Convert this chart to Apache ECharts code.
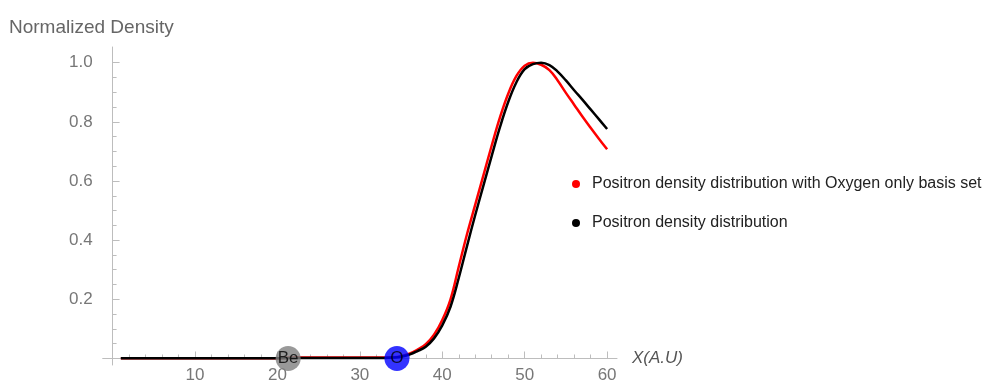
<!DOCTYPE html>
<html><head><meta charset="utf-8">
<script src="https://cdn.jsdelivr.net/npm/echarts@6/dist/echarts.min.js"></script>
<style>html,body{margin:0;padding:0;background:#fff}#c{width:1003px;height:382px}</style>
</head><body><div id="c"></div>
<script>
// ---- data ----
const xValues = [1,2,3,4,5,6,7,8,9,10,11,12,13,14,15,16,17,18,19,20,21,22,23,24,25,26,27,28,29,30,
  31,32,33,34,35,36,37,38,39,40,41,42,43,44,45,46,47,48,49,50,51,52,53,54,55,56,57,58,59,60];
const oxygenOnlyDensity = [0.001,0.001,0.001,0.001,0.001,0.001,0.001,0.001,0.001,0.001,
  0.001,0.001,0.001,0.001,0.001,0.001,0.001,0.001,0.001,0.001,
  0.002,0.003,0.003,0.003,0.003,0.003,0.003,0.003,0.003,0.003,
  0.003,0.003,0.003,0.004,0.008,0.016,0.030,0.048,0.080,0.130,
  0.200,0.310,0.420,0.520,0.620,0.720,0.815,0.895,0.955,0.990,
  1.000,0.993,0.975,0.940,0.898,0.858,0.818,0.780,0.743,0.707];
const fullDensity = [0.001,0.001,0.001,0.001,0.001,0.001,0.001,0.001,0.001,0.001,
  0.001,0.001,0.001,0.001,0.001,0.001,0.001,0.001,0.001,0.001,
  0.001,0.002,0.002,0.002,0.002,0.002,0.002,0.002,0.002,0.002,
  0.002,0.002,0.002,0.003,0.006,0.013,0.025,0.040,0.068,0.112,
  0.175,0.272,0.380,0.485,0.585,0.685,0.782,0.867,0.934,0.978,
  0.995,1.000,0.992,0.970,0.940,0.907,0.875,0.842,0.809,0.776];
const atomNames = ['Be', 'O'];
const atomX = [21.3, 34.5];
const seriesNames = ['Positron density distribution with Oxygen only basis set', 'Positron density distribution'];
const xMajorTicks = [10, 20, 30, 40, 50, 60];
const xMinorTicks = [2,4,6,8,12,14,16,18,22,24,26,28,32,34,36,38,42,44,46,48,52,54,56,58];
const yMajorTicks = [0.2, 0.4, 0.6, 0.8, 1.0];
const yMinorTicks = [0.05,0.1,0.15,0.25,0.3,0.35,0.45,0.5,0.55,0.65,0.7,0.75,0.85,0.9,0.95];

// ---- chart ----
const axisGray = '#bdbdbd';
const chart = echarts.init(document.getElementById('c'), null, {renderer: 'canvas'});
const xBase = {type: 'value', min: -1.2, max: 61.2, splitLine: {show: false}};
const yBase = {type: 'value', min: -0.022, max: 1.053, splitLine: {show: false}, position: 'left'};
chart.setOption({
  animation: false,
  textStyle: {fontFamily: 'Liberation Sans, Arial, sans-serif'},
  title: {text: 'Normalized Density', left: 9, top: 18, padding: 0,
    textStyle: {fontSize: 19, fontWeight: 'normal', color: '#666'}},
  grid: {left: 102.7, right: 386, top: 47, bottom: 17, containLabel: false, outerBoundsMode: 'none'},
  legend: {
    data: seriesNames, orient: 'vertical', left: 567, top: 171, itemGap: 23,
    icon: 'circle', itemWidth: 22, itemHeight: 8,
    textStyle: {fontSize: 16, color: '#222'}
  },
  xAxis: [
    Object.assign({}, xBase, {
      axisLine: {onZero: true, lineStyle: {color: axisGray, width: 1}},
      axisTick: {inside: true, length: 7, customValues: xMajorTicks, lineStyle: {color: axisGray}},
      axisLabel: {customValues: xMajorTicks, margin: 2, color: '#777', fontSize: 17},
      name: 'X(A.U)', nameLocation: 'end', nameGap: 15,
      nameTextStyle: {fontStyle: 'italic', color: '#555', fontSize: 17}
    }),
    Object.assign({}, xBase, {
      position: 'bottom',
      axisLine: {show: false, onZero: true},
      axisTick: {inside: true, length: 4, customValues: xMinorTicks, lineStyle: {color: axisGray}},
      axisLabel: {show: false}
    })
  ],
  yAxis: [
    Object.assign({}, yBase, {
      axisLine: {show: true, onZero: true, lineStyle: {color: axisGray, width: 1}},
      axisTick: {show: true, inside: true, length: 7, customValues: yMajorTicks, lineStyle: {color: axisGray}},
      axisLabel: {customValues: yMajorTicks, margin: 10, color: '#777', fontSize: 17,
        formatter: v => v.toFixed(1)}
    }),
    Object.assign({}, yBase, {
      axisLine: {show: false, onZero: true},
      axisTick: {show: true, inside: true, length: 4, customValues: yMinorTicks, lineStyle: {color: axisGray}},
      axisLabel: {show: false}
    })
  ],
  series: [
    {
      name: seriesNames[0], type: 'line', smooth: 0.4, showSymbol: false, z: 3,
      color: '#ff0000', lineStyle: {width: 2.5, color: '#ff0000'},
      data: xValues.map((x, i) => [x, oxygenOnlyDensity[i]])
    },
    {
      name: seriesNames[1], type: 'line', smooth: 0.4, showSymbol: false, z: 4,
      color: '#000000', lineStyle: {width: 2.5, color: '#000000'},
      data: xValues.map((x, i) => [x, fullDensity[i]])
    },
    {
      name: 'atoms', type: 'scatter', z: 6, symbolSize: 25,
      data: atomX.map((x, i) => ({
        value: [x, 0], name: atomNames[i],
        itemStyle: {color: i === 0 ? '#808080' : '#0000ff'}
      })),
      label: {show: true, position: 'inside', formatter: '{b}', color: '#000', fontSize: 17}
    }
  ]
});
</script></body></html>
